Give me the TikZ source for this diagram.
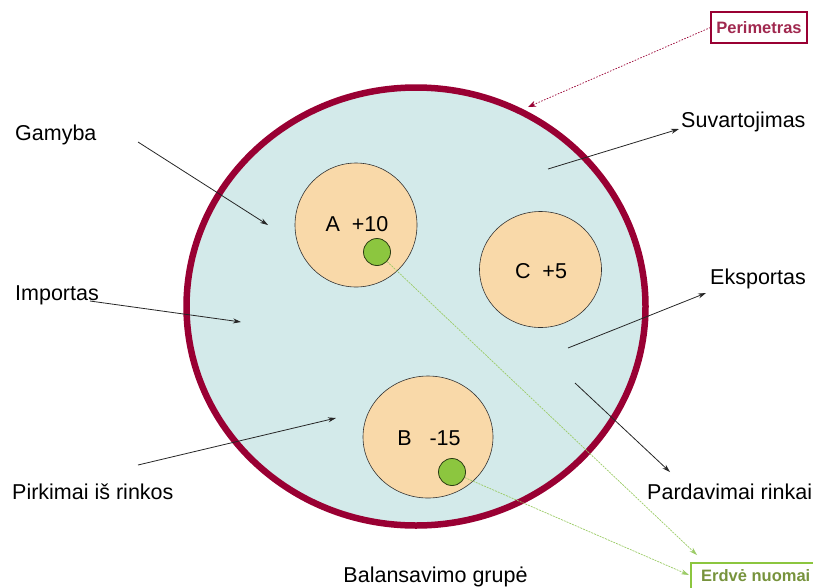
\documentclass[tikz,border=0pt]{standalone}
\usepackage{fontspec}
\setmainfont{Liberation Sans}
\usetikzlibrary{shapes.geometric,arrows.meta}
\definecolor{crim}{HTML}{990033}
\definecolor{pale}{HTML}{D3EAEA}
\definecolor{peach}{HTML}{F9D9A9}
\definecolor{lime}{HTML}{8CC63F}
\definecolor{lgreen}{HTML}{9BCB66}
\definecolor{olive}{HTML}{77933C}
\definecolor{pertext}{HTML}{A0284F}
\begin{document}
\begin{tikzpicture}[x=1pt,y=-1pt,
  lbl/.style={font=\fontsize{21.5}{25}\selectfont, inner sep=0pt},
  party/.style={ellipse, draw=black!80, line width=0.6pt, fill=peach, inner sep=0pt},
  dot/.style={circle, draw=black!70!lime, line width=0.8pt, fill=lime, minimum size=27pt, inner sep=0pt},
  flow/.style={-{Stealth[length=8pt,width=5pt]}, line width=0.8pt, black!85},
  greenflow/.style={-{Stealth[length=8pt,width=5pt]}, line width=0.7pt, lgreen, dash pattern=on 2pt off 1pt},
  tag/.style={draw, line width=1.2pt, inner sep=0pt, font=\fontsize{16.5}{19}\selectfont\bfseries}
]
\useasboundingbox (0,0) rectangle (813,587);
% perimeter
\node[ellipse, draw=crim, line width=6.5pt, fill=pale, minimum width=459pt, minimum height=438pt, inner sep=0pt] (perim) at (416,306.5) {};
% parties
\node[party, minimum width=122pt, minimum height=124pt] (A) at (356,225) {};
\node[party, minimum width=122pt, minimum height=116pt] (C) at (540.5,269.5) {};
\node[party, minimum width=130pt, minimum height=122pt] (B) at (428,437) {};
\node[lbl] (Alab) at (357,224) {A~~+10};
\node[lbl] (Clab) at (541,271) {C~~+5};
\node[lbl] (Blab) at (429,438) {B~~~-15};
\node[dot] (gA) at (377,252) {};
\node[dot] (gB) at (452,472) {};
% side labels
\node[lbl, anchor=west] (gam) at (15,135) {Gamyba};
\node[lbl, anchor=west] (imp) at (15,295) {Importas};
\node[lbl, anchor=west] (pirk) at (12,492) {Pirkimai iš rinkos};
\node[lbl, anchor=west] (suv) at (681,122) {Suvartojimas};
\node[lbl, anchor=west] (eks) at (710,279) {Eksportas};
\node[lbl, anchor=west] (pard) at (647,492) {Pardavimai rinkai};
\node[lbl] (bal) at (435.5,577) {Balansavimo grupė};
% tags
\node[tag, draw=crim, text=pertext, minimum width=96pt, minimum height=31pt] (per) at (759,27.5) {Perimetras};
\draw[lime, line width=1.2pt] (813,563) -| (691,590);
\node[inner sep=0pt, anchor=west, text=olive, font=\fontsize{16.5}{19}\selectfont\bfseries] (erd) at (701,575.5) {Erdvė nuomai};
% arrow coordinates
\coordinate (g0) at (138,142); \coordinate (g1) at (268,225);
\coordinate (i0) at (90,301);  \coordinate (i1) at (241,322);
\coordinate (p0) at (138,465); \coordinate (p1) at (336,418);
\coordinate (s0) at (548,169); \coordinate (s1) at (679,129);
\coordinate (e0) at (568,348); \coordinate (e1) at (706,293);
\coordinate (r0) at (575,383); \coordinate (r1) at (670,472);
\coordinate (pt) at (528,107);
\coordinate (ea) at (697,555);
\coordinate (eb) at (689,575);
\draw[flow] (g0) -- (g1);
\draw[flow] (i0) -- (i1);
\draw[flow] (p0) -- (p1);
\draw[flow] (s0) -- (s1);
\draw[flow] (e0) -- (e1);
\draw[flow] (r0) -- (r1);
\draw[-{Stealth[length=8pt,width=6pt]}, crim, line width=0.7pt, dash pattern=on 1.5pt off 1.5pt] (per.west) -- (pt);
\draw[greenflow] (gA) -- (ea);
\draw[greenflow] (gB) -- (eb);
\end{tikzpicture}
\end{document}
